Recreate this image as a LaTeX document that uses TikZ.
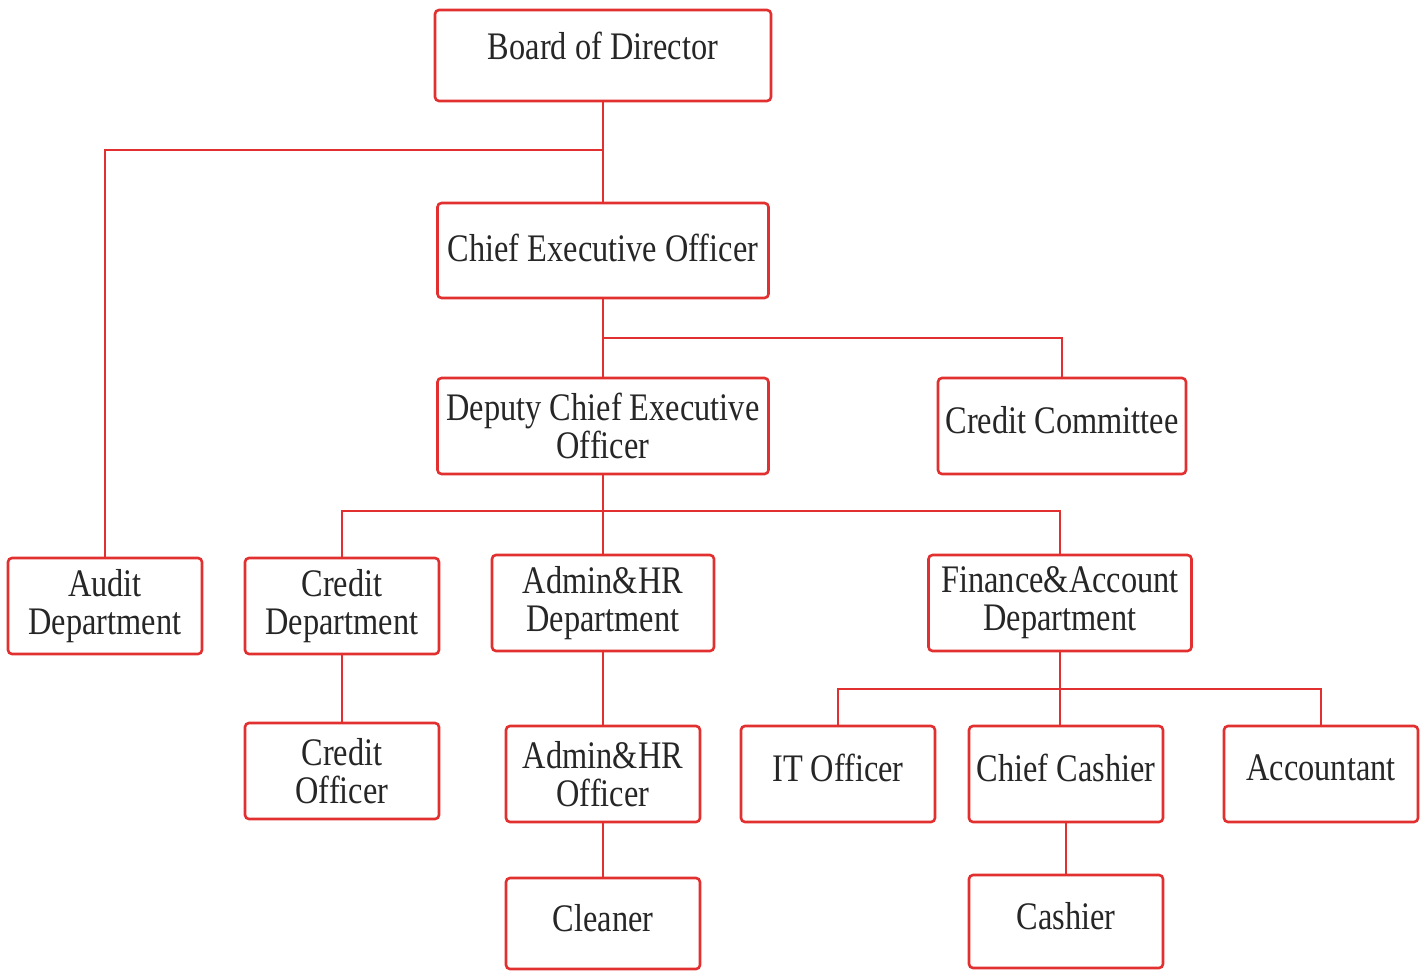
\documentclass[tikz,border=0pt]{standalone}
\usepackage{fontspec}
\setmainfont{Liberation Serif}[FakeStretch=0.83]
\usepackage{tikz}
\usetikzlibrary{positioning}
\definecolor{orgred}{RGB}{226,48,48}
\definecolor{orgink}{RGB}{38,38,38}
\tikzset{postbox/.style = {draw=orgred, line width=2.6pt, rounded corners=4pt,
                           fill=white, text=orgink, align=center,
                           font=\fontsize{39}{38}\selectfont,
                           minimum width=194pt, minimum height=96pt, inner sep=0pt},
         oneline/.style = {text depth=#1},
         oneline/.default = 12pt,
         orgline/.style = {draw=orgred, line width=2.6pt}}

\begin{document}
\begin{tikzpicture}[x=1pt, y=-1pt]
    \useasboundingbox (0, 0) rectangle (1426, 972);
    \node (board) at (603, 55.5) [postbox, oneline=19pt, minimum width=336, minimum height=91] {Board of Director};
    \node (ceo) at (603, 250.5) [postbox, oneline=6pt, minimum width=331, minimum height=95] {Chief Executive Officer};
    \node (deputy) at (603, 426) [postbox, minimum width=331] {Deputy Chief Executive\\Officer};
    \node (committee) at (1062, 426) [postbox, oneline, minimum width=248] {Credit Committee};
    \node (audit) at (105, 606) [postbox] {Audit\\Department};
    \node (creditdept) at (342, 606) [postbox] {Credit\\Department};
    \node (admindept) at (603, 603) [postbox, minimum width=222] {Admin\&HR\\Department};
    \node (finance) at (1060, 603) [postbox, minimum width=263] {Finance\&Account\\Department};
    \node (creditofficer) at (342, 771) [postbox] {Credit\\Officer};
    \node (adminofficer) at (603, 774) [postbox] {Admin\&HR\\Officer};
    \node (itofficer) at (838, 774) [postbox, oneline] {IT Officer};
    \node (chiefcashier) at (1066, 774) [postbox, oneline] {Chief Cashier};
    \node (accountant) at (1321, 774) [postbox, oneline] {Accountant};
    \node (cleaner) at (603, 923.5) [postbox, oneline, minimum height=91] {Cleaner};
    \node (cashier) at (1066, 921.5) [postbox, oneline, minimum height=93] {Cashier};
    \coordinate (auditjoin) at (603, 150);
    \coordinate (ceojoin) at (603, 338);
    \coordinate (deputyjoin) at (603, 511);
    \coordinate (financejoin) at (1060, 689);
    \draw [orgline] (board) -- (ceo);
    \draw [orgline] (auditjoin) -| (audit);
    \draw [orgline] (ceo) -- (deputy);
    \draw [orgline] (ceojoin) -| (committee);
    \draw [orgline] (deputy) -- (admindept);
    \draw [orgline] (deputyjoin) -| (creditdept);
    \draw [orgline] (deputyjoin) -| (finance);
    \draw [orgline] (creditdept) -- (creditofficer);
    \draw [orgline] (admindept) -- (adminofficer);
    \draw [orgline] (adminofficer) -- (cleaner);
    \draw [orgline] (finance.south) -- (finance.south |- chiefcashier.north);
    \draw [orgline] (financejoin) -| (itofficer);
    \draw [orgline] (financejoin) -| (accountant);
    \draw [orgline] (chiefcashier) -- (cashier);
  \end{tikzpicture}
\end{document}
